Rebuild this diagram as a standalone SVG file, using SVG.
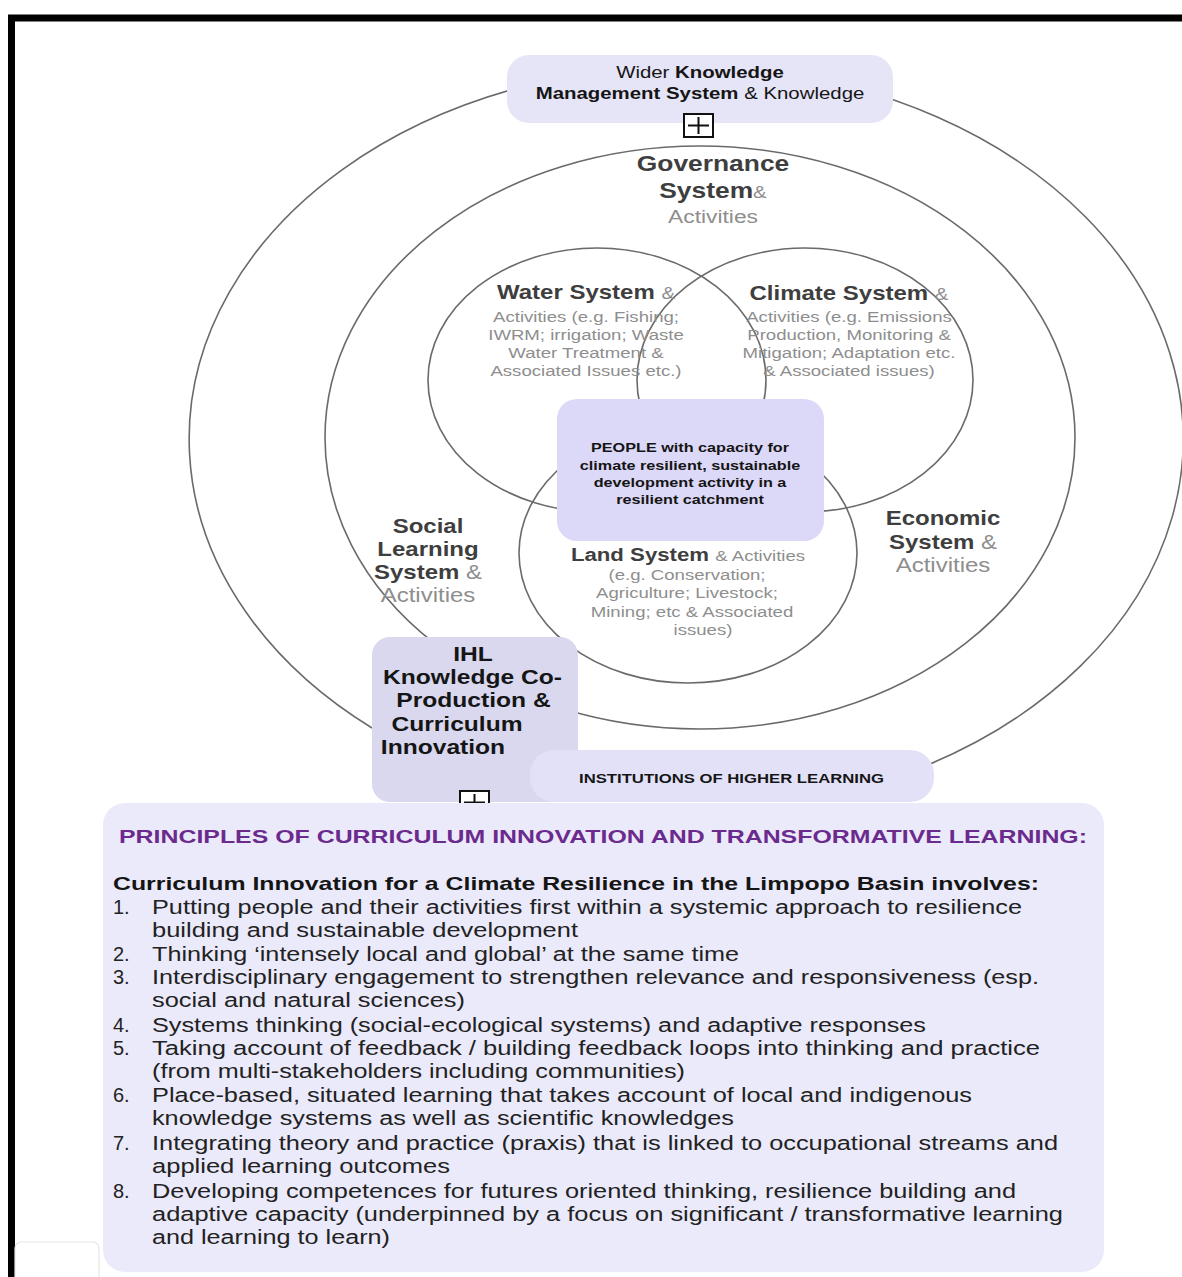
<svg xmlns="http://www.w3.org/2000/svg" width="1182" height="1277" viewBox="0 0 1182 1277">
<style>
text{font-family:"Liberation Sans",Arial,Helvetica,sans-serif}
.ring{fill:none;stroke:#6a6a6a;stroke-width:1.6}
.b{font-weight:bold}
.dk{fill:#3e3e3e}
.lt{fill:#8e8e8e}
.blk{fill:#151515}
.li{font-size:20px;fill:#222}
.plus{fill:#fff;stroke:#111;stroke-width:2}
</style>
<rect x="0" y="0" width="1182" height="1277" fill="#fff"/>
<path d="M11.5 1277 V18 H1182" fill="none" stroke="#000" stroke-width="7"/>
<rect x="15" y="1242" width="84" height="45" rx="6" fill="#fff" stroke="#e6e6e6" stroke-width="1.2"/>

<g id="connectors">
<path id="ring-knowledge" class="ring" d="M372 728 A497 373 0 1 1 930 764"/>
<ellipse id="ring-governance" class="ring" cx="700" cy="437.5" rx="375" ry="291.5"/>
<ellipse id="ring-water" class="ring" cx="597" cy="380" rx="169" ry="132"/>
<ellipse id="ring-climate" class="ring" cx="805" cy="380" rx="168" ry="132"/>
<ellipse id="ring-land" class="ring" cx="688" cy="553" rx="169" ry="130"/>
</g>

<g id="node-wider">
<rect x="507" y="55" width="386" height="68" rx="22" fill="#e6e4f7"/>
<g transform="translate(700 0) scale(1.2 1)">
<text x="0" y="78" text-anchor="middle" font-size="17" class="blk">Wider <tspan class="b">Knowledge</tspan></text>
<text x="0" y="99" text-anchor="middle" font-size="17" class="blk"><tspan class="b">Management System</tspan> &amp; Knowledge</text>
</g>
<rect class="plus" x="684" y="114" width="29" height="23"/>
<path d="M688 125.5 H709 M698.5 117 V134" stroke="#111" stroke-width="2"/>
</g>

<g id="node-governance">
<g transform="translate(713 0) scale(1.2 1)">
<text x="0" y="171" text-anchor="middle" font-size="22" class="b dk">Governance</text>
<text x="0" y="198" text-anchor="middle" font-size="22" class="dk"><tspan class="b">System</tspan><tspan class="lt" font-size="17">&amp;</tspan></text>
<text x="0" y="223" text-anchor="middle" font-size="19" class="lt">Activities</text>
</g>
</g>

<g id="node-water">
<g transform="translate(586 0) scale(1.2 1)">
<text x="0" y="299" text-anchor="middle" font-size="20" class="dk"><tspan class="b">Water System</tspan> <tspan class="lt" font-size="17">&amp;</tspan></text>
<text x="0" y="322" text-anchor="middle" font-size="15.5" class="lt">Activities (e.g. Fishing;</text>
<text x="0" y="340" text-anchor="middle" font-size="15.5" class="lt">IWRM; irrigation; Waste</text>
<text x="0" y="358" text-anchor="middle" font-size="15.5" class="lt">Water Treatment &amp;</text>
<text x="0" y="376" text-anchor="middle" font-size="15.5" class="lt">Associated Issues etc.)</text>
</g>
</g>

<g id="node-climate">
<g transform="translate(849 0) scale(1.2 1)">
<text x="0" y="300" text-anchor="middle" font-size="20" class="dk"><tspan class="b">Climate System</tspan> <tspan class="lt" font-size="17">&amp;</tspan></text>
<text x="0" y="322" text-anchor="middle" font-size="15.5" class="lt">Activities (e.g. Emissions</text>
<text x="0" y="340" text-anchor="middle" font-size="15.5" class="lt">Production, Monitoring &amp;</text>
<text x="0" y="358" text-anchor="middle" font-size="15.5" class="lt">Mitigation; Adaptation etc.</text>
<text x="0" y="376" text-anchor="middle" font-size="15.5" class="lt">&amp; Associated issues)</text>
</g>
</g>

<g id="node-people">
<rect x="557" y="399" width="267" height="142" rx="20" fill="#dcd8f8"/>
<g transform="translate(690 0) scale(1.2 1)">
<text x="0" y="452" text-anchor="middle" font-size="13.5" class="b blk">PEOPLE with capacity for</text>
<text x="0" y="470" text-anchor="middle" font-size="13.5" class="b blk">climate resilient, sustainable</text>
<text x="0" y="487" text-anchor="middle" font-size="13.5" class="b blk">development activity in a</text>
<text x="0" y="504" text-anchor="middle" font-size="13.5" class="b blk">resilient catchment</text>
</g>
</g>

<g id="node-land">
<g transform="translate(688 0) scale(1.2 1)">
<text x="0" y="561" text-anchor="middle" font-size="18.5" class="dk"><tspan class="b">Land System</tspan> <tspan class="lt" font-size="15.5">&amp; Activities</tspan></text>
</g>
<g transform="translate(687 0) scale(1.2 1)">
<text x="0" y="580" text-anchor="middle" font-size="15.5" class="lt">(e.g. Conservation;</text>
<text x="0" y="598" text-anchor="middle" font-size="15.5" class="lt">Agriculture; Livestock;</text>
</g>
<g transform="translate(692 0) scale(1.2 1)">
<text x="0" y="617" text-anchor="middle" font-size="15.5" class="lt">Mining; etc &amp; Associated</text>
</g>
<g transform="translate(703 0) scale(1.2 1)">
<text x="0" y="635" text-anchor="middle" font-size="15.5" class="lt">issues)</text>
</g>
</g>

<g id="node-social">
<g transform="translate(428 0) scale(1.2 1)">
<text x="0" y="533" text-anchor="middle" font-size="20" class="b dk">Social</text>
<text x="0" y="556" text-anchor="middle" font-size="20" class="b dk">Learning</text>
<text x="0" y="579" text-anchor="middle" font-size="20" class="dk"><tspan class="b">System</tspan> <tspan class="lt">&amp;</tspan></text>
<text x="0" y="602" text-anchor="middle" font-size="20" class="lt">Activities</text>
</g>
</g>

<g id="node-economic">
<g transform="translate(943 0) scale(1.2 1)">
<text x="0" y="525" text-anchor="middle" font-size="20" class="b dk">Economic</text>
<text x="0" y="549" text-anchor="middle" font-size="20" class="dk"><tspan class="b">System</tspan> <tspan class="lt">&amp;</tspan></text>
<text x="0" y="572" text-anchor="middle" font-size="20" class="lt">Activities</text>
</g>
</g>

<g id="node-ihl">
<rect x="372" y="637" width="206" height="165" rx="18" fill="#d9d8ee"/>
<rect class="plus" x="460" y="791" width="29" height="23" fill="#eeeefa"/>
<path d="M464 802.5 H485 M474.5 794 V811" stroke="#111" stroke-width="2"/>
<g class="b blk" font-size="20.5">
<g transform="translate(473 0) scale(1.2 1)"><text x="0" y="661" text-anchor="middle">IHL</text></g>
<g transform="translate(472.5 0) scale(1.2 1)"><text x="0" y="684" text-anchor="middle">Knowledge Co-</text></g>
<g transform="translate(473.5 0) scale(1.2 1)"><text x="0" y="707" text-anchor="middle">Production &amp;</text></g>
<g transform="translate(457 0) scale(1.2 1)"><text x="0" y="731" text-anchor="middle">Curriculum</text></g>
<g transform="translate(443 0) scale(1.2 1)"><text x="0" y="754" text-anchor="middle">Innovation</text></g>
</g>
</g>

<g id="node-institutions">
<rect x="530" y="750" width="404" height="52" rx="24" fill="#e2e1f8"/>
<text x="579" y="783" font-size="13.5" class="b blk" textLength="305" lengthAdjust="spacingAndGlyphs">INSTITUTIONS OF HIGHER  LEARNING</text>
</g>

<g id="node-principles">
<rect x="103" y="803" width="1001" height="469" rx="22" fill="#ebeafa"/>
<text x="119" y="843" font-size="18.5" class="b" fill="#6b2a8d" textLength="968" lengthAdjust="spacingAndGlyphs">PRINCIPLES OF CURRICULUM INNOVATION AND TRANSFORMATIVE LEARNING:</text>
<text x="113" y="890" font-size="19" class="b blk" textLength="926" lengthAdjust="spacingAndGlyphs">Curriculum Innovation for a Climate Resilience in the Limpopo Basin involves:</text>
<g class="li">
<text x="113" y="914">1.</text>
<text x="152" y="914" textLength="870" lengthAdjust="spacingAndGlyphs">Putting people and their activities first within a systemic approach to resilience</text>
<text x="152" y="937" textLength="426" lengthAdjust="spacingAndGlyphs">building and sustainable development</text>
<text x="113" y="961">2.</text>
<text x="152" y="961" textLength="587" lengthAdjust="spacingAndGlyphs">Thinking ‘intensely local and global’ at the same time</text>
<text x="113" y="984">3.</text>
<text x="152" y="984" textLength="887" lengthAdjust="spacingAndGlyphs">Interdisciplinary engagement to strengthen relevance and responsiveness (esp.</text>
<text x="152" y="1007" textLength="313" lengthAdjust="spacingAndGlyphs">social and natural sciences)</text>
<text x="113" y="1032">4.</text>
<text x="152" y="1032" textLength="774" lengthAdjust="spacingAndGlyphs">Systems thinking (social-ecological systems) and adaptive responses</text>
<text x="113" y="1055">5.</text>
<text x="152" y="1055" textLength="888" lengthAdjust="spacingAndGlyphs">Taking account of feedback / building feedback loops into thinking and practice</text>
<text x="152" y="1078" textLength="533" lengthAdjust="spacingAndGlyphs">(from multi-stakeholders including communities)</text>
<text x="113" y="1102">6.</text>
<text x="152" y="1102" textLength="820" lengthAdjust="spacingAndGlyphs">Place-based, situated learning that takes account of local and indigenous</text>
<text x="152" y="1125" textLength="582" lengthAdjust="spacingAndGlyphs">knowledge systems as well as scientific knowledges</text>
<text x="113" y="1150">7.</text>
<text x="152" y="1150" textLength="906" lengthAdjust="spacingAndGlyphs">Integrating theory and practice (praxis) that is linked to occupational streams and</text>
<text x="152" y="1173" textLength="298" lengthAdjust="spacingAndGlyphs">applied learning outcomes</text>
<text x="113" y="1198">8.</text>
<text x="152" y="1198" textLength="864" lengthAdjust="spacingAndGlyphs">Developing competences for futures oriented thinking, resilience building and</text>
<text x="152" y="1221" textLength="911" lengthAdjust="spacingAndGlyphs">adaptive capacity (underpinned by a focus on significant / transformative learning</text>
<text x="152" y="1244" textLength="238" lengthAdjust="spacingAndGlyphs">and learning to learn)</text>
</g>
</g>
</svg>
